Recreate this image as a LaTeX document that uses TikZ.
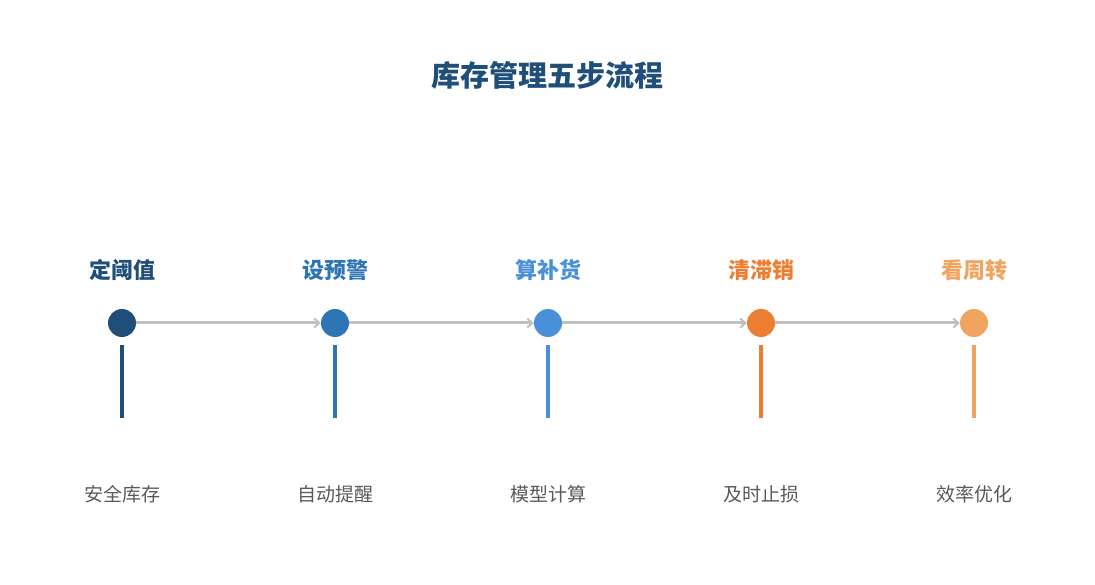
\documentclass[tikz,border=0pt]{standalone}
\usepackage{fontspec}
\setmainfont{Noto Sans CJK SC}
\usetikzlibrary{arrows.meta}
\definecolor{cA}{HTML}{1F4E79}
\definecolor{cB}{HTML}{2E75B6}
\definecolor{cC}{HTML}{4A90D9}
\definecolor{cD}{HTML}{ED7D31}
\definecolor{cE}{HTML}{F0A45F}
\definecolor{linkgray}{HTML}{C0C0C0}
\definecolor{subgray}{HTML}{595959}
\tikzset{
  dot/.style={circle,inner sep=0pt,minimum size=28pt},
  head/.style={font=\bfseries\fontsize{22}{26}\selectfont},
  sub/.style={font=\fontsize{19}{23}\selectfont,text=subgray},
  link/.style={draw=linkgray,line width=3pt,-{Straight Barb[length=5pt,width=9pt,line width=2pt]}}
}
\begin{document}
\begin{tikzpicture}[x=1pt,y=-1pt]
\useasboundingbox (0,0) rectangle (1095,585);
\node[font=\bfseries\fontsize{29}{33}\selectfont,text=cA] (title) at (547,75) {库存管理五步流程};
\foreach \i/\c/\h/\s in {1/cA/定阈值/安全库存,2/cB/设预警/自动提醒,3/cC/算补货/模型计算,4/cD/清滞销/及时止损,5/cE/看周转/效率优化}{
  \node[head,text=\c] (h\i) at (122+213*\i-213,270) {\h};
  \node[sub] (s\i) at (122+213*\i-213,494) {\s};
  \node[dot,fill=\c] (d\i) at (122+213*\i-213,323) {};
  \coordinate (t\i) at (122+213*\i-213,345);
  \coordinate (b\i) at (122+213*\i-213,418);
  \draw[\c,line width=4pt] (t\i) -- (b\i);
}
\foreach \i/\j in {1/2,2/3,3/4,4/5}
  \draw[link] (d\i.east) -- (d\j.west);
\end{tikzpicture}
\end{document}
